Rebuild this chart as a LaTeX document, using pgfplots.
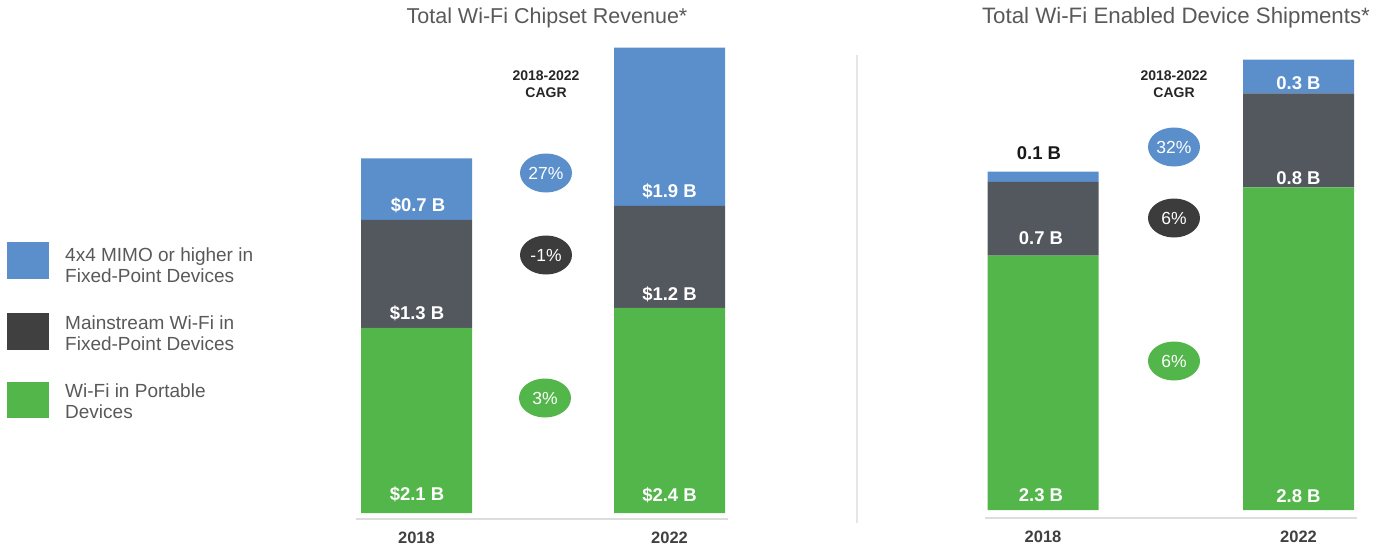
\documentclass[border=0pt]{standalone}
\usepackage{fontspec}
\setmainfont{Liberation Sans}
\usepackage{pgfplots}
\pgfplotsset{compat=1.18}
\usetikzlibrary{shapes.geometric}
\definecolor{cblue}{HTML}{5A8FCB}
\definecolor{cdark}{HTML}{53575E}
\definecolor{clegdark}{HTML}{404040}
\definecolor{cgreen}{HTML}{52B64A}
\definecolor{cbub}{HTML}{3C3C3C}
\definecolor{ctitle}{HTML}{595959}
\definecolor{caxis}{HTML}{DDDDDD}
\definecolor{cdiv}{HTML}{E6E6E6}
\definecolor{cyear}{HTML}{404040}
\begin{document}
\begin{tikzpicture}
\useasboundingbox (0pt,0pt) rectangle (1390pt,-551pt);
\pgfplotsset{
  mybars/.style={
    scale only axis, ybar stacked, bar width=111pt, enlargelimits=false, clip=false,
    axis x line=bottom, axis y line=none,
    axis line style={draw=caxis, line width=1.5pt, -},
    ytick=\empty, major tick length=0pt,
    xticklabel style={font=\fontsize{16.5}{18}\selectfont\bfseries, text=cyear, anchor=center, yshift=-19pt, text depth=0pt},
    width=372pt,
  }
}
\tikzset{
  lbl/.style={font=\fontsize{18.5}{20}\selectfont\bfseries, text=white, text depth=0pt, inner sep=0pt},
  bub/.style={ellipse, minimum width=52pt, minimum height=39pt, inner sep=0pt, text=white, font=\fontsize{17.5}{19}\selectfont},
  cagr/.style={font=\fontsize{14}{17}\selectfont\bfseries, align=center, text=black!85},
  ttl/.style={font=\fontsize{21.5}{24}\selectfont, text=ctitle},
  leg/.style={font=\fontsize{19}{21.5}\selectfont, align=left, anchor=west, text=ctitle, inner sep=0pt},
}
% ---------- Left chart: revenue ----------
\begin{axis}[mybars, at={(356pt,-519pt)}, anchor=south west, height=479pt,
  xmin=356, xmax=728, ymin=-0.0694, ymax=5.468,
  xtick={416.5,669.5}, xticklabels={2018,2022}]
\addplot[fill=cgreen, draw=none] coordinates {(416.5,2.14) (669.5,2.37)};
\addplot[fill=cdark, draw=none] coordinates {(416.5,1.25) (669.5,1.18)};
\addplot[fill=cblue, draw=none] coordinates {(416.5,0.71) (669.5,1.83)};
\end{axis}
% ---------- Right chart: shipments ----------
\begin{axis}[mybars, at={(985pt,-518pt)}, anchor=south west, height=478pt,
  xmin=985, xmax=1357, ymin=-0.0714, ymax=4.196,
  xtick={1043,1298.5}, xticklabels={2018,2022}]
\addplot[fill=cgreen, draw=none] coordinates {(1043,2.27) (1298.5,2.88)};
\addplot[fill=cdark, draw=none] coordinates {(1043,0.66) (1298.5,0.84)};
\addplot[fill=cblue, draw=none] coordinates {(1043,0.09) (1298.5,0.30)};
\end{axis}
% bar labels left
\node[lbl] at (418pt,-205pt) {\$0.7 B};
\node[lbl] at (417pt,-313pt) {\$1.3 B};
\node[lbl] at (417pt,-494pt) {\$2.1 B};
\node[lbl] at (669.5pt,-191pt) {\$1.9 B};
\node[lbl] at (669.5pt,-294pt) {\$1.2 B};
\node[lbl] at (669.5pt,-495pt) {\$2.4 B};
% bar labels right
\node[lbl, text=black!90] at (1039pt,-153pt) {0.1 B};
\node[lbl] at (1041pt,-238pt) {0.7 B};
\node[lbl] at (1041pt,-495pt) {2.3 B};
\node[lbl] at (1298.5pt,-83pt) {0.3 B};
\node[lbl] at (1298.5pt,-178pt) {0.8 B};
\node[lbl] at (1298.5pt,-496pt) {2.8 B};
% titles
\node[ttl] at (547pt,-18pt) {Total Wi-Fi Chipset Revenue*};
\node[ttl, font=\fontsize{22.3}{25}\selectfont] at (1176pt,-18pt) {Total Wi-Fi Enabled Device Shipments*};
% CAGR headers
\node[cagr] at (546pt,-84.5pt) {2018-2022\\CAGR};
\node[cagr] at (1174pt,-84.5pt) {2018-2022\\CAGR};
% bubbles
\node[bub, fill=cblue] at (546pt,-173pt) {27\%};
\node[bub, fill=cbub] at (546pt,-255pt) {-1\%};
\node[bub, fill=cgreen] at (545pt,-398pt) {3\%};
\node[bub, fill=cblue] at (1174pt,-147pt) {32\%};
\node[bub, fill=cbub] at (1174pt,-218pt) {6\%};
\node[bub, fill=cgreen] at (1174pt,-361pt) {6\%};
% divider
\draw[cdiv, line width=1.5pt] (857pt,-55pt) -- (857pt,-523pt);
% legend
\fill[cblue] (7pt,-242pt) rectangle (49pt,-279pt);
\fill[clegdark] (7pt,-313pt) rectangle (49pt,-350pt);
\fill[cgreen] (7pt,-382pt) rectangle (49pt,-418pt);
\node[leg] at (65pt,-265pt) {4x4 MIMO or higher in\\Fixed-Point Devices};
\node[leg] at (65pt,-333pt) {Mainstream Wi-Fi in\\Fixed-Point Devices};
\node[leg] at (65pt,-401pt) {Wi-Fi in Portable\\Devices};
\end{tikzpicture}
\end{document}
